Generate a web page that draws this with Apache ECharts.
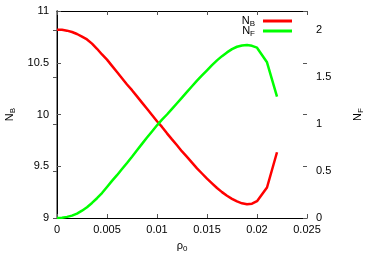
<!DOCTYPE html>
<html>
<head>
<meta charset="utf-8">
<script src="https://cdn.jsdelivr.net/npm/echarts@6/dist/echarts.min.js"></script>
<style>
  html, body { margin: 0; padding: 0; background: #fff; }
  #chart { width: 374px; height: 262px; }
</style>
</head>
<body>
<div id="chart"></div>
<script>
// rho_0 samples
const rho = [0, 0.0005, 0.001, 0.0015, 0.002, 0.0025, 0.003, 0.0035, 0.004, 0.0045,
  0.005, 0.0055, 0.006, 0.0065, 0.007, 0.0075, 0.008, 0.0085, 0.009, 0.0095,
  0.010, 0.0105, 0.011, 0.0115, 0.012, 0.0125, 0.013, 0.0135, 0.014, 0.0145,
  0.015, 0.0155, 0.016, 0.0165, 0.017, 0.0175, 0.018, 0.0185, 0.019, 0.0195,
  0.020, 0.021, 0.022];
// N_B (left axis)
const nB = [10.82, 10.818, 10.81, 10.797, 10.778, 10.752, 10.725, 10.685, 10.635, 10.58,
  10.53, 10.47, 10.41, 10.35, 10.29, 10.235, 10.175, 10.115, 10.055, 9.995,
  9.935, 9.88, 9.818, 9.76, 9.703, 9.643, 9.59, 9.535, 9.48, 9.43,
  9.38, 9.335, 9.29, 9.25, 9.215, 9.185, 9.16, 9.142, 9.132, 9.138,
  9.162, 9.295, 9.635];
// N_F (right axis)
const nF = [0, 0.003, 0.012, 0.025, 0.047, 0.078, 0.115, 0.16, 0.21, 0.265,
  0.33, 0.395, 0.455, 0.52, 0.585, 0.652, 0.72, 0.788, 0.855, 0.92,
  0.985, 1.045, 1.10, 1.16, 1.22, 1.28, 1.34, 1.40, 1.46, 1.515,
  1.57, 1.625, 1.675, 1.72, 1.76, 1.795, 1.82, 1.834, 1.838, 1.83,
  1.81, 1.655, 1.29];

const xTicks = [0, 0.005, 0.01, 0.015, 0.02, 0.025];

const font = 'Liberation Sans, Arial, sans-serif';
const rich = {
  n: { fontFamily: font, fontSize: 11, color: '#000', lineHeight: 14, verticalAlign: 'middle' },
  s: { fontFamily: font, fontSize: 8, color: '#000', lineHeight: 14, verticalAlign: 'bottom', padding: [5, 0, 0, 0] }
};

const chart = echarts.init(document.getElementById('chart'));

const tick = { show: true, inside: true, length: 4, lineStyle: { color: '#555' } };
const lbl = { fontFamily: font, fontSize: 11, color: '#000' };

chart.setOption({
  animation: false,
  grid: { left: 57, right: 67, top: 11, bottom: 44, outerBoundsMode: 'none', containLabel: false },
  legend: {
    orient: 'vertical',
    right: 77,
    top: 10,
    align: 'right',
    itemGap: -3,
    itemWidth: 29,
    itemHeight: 3,
    icon: 'rect',
    textStyle: { rich: rich, padding: [0, 3, 0, 0] },
    formatter: function (name) {
      return '{n|N}{s|' + name.slice(1) + '}';
    },
    data: ['NB', 'NF']
  },
  xAxis: [
    {
      type: 'value', min: 0, max: 0.025, interval: 0.005,
      name: '{n|ρ}{s|0}', nameLocation: 'middle', nameGap: 21,
      nameTextStyle: { rich: rich },
      axisLine: { lineStyle: { color: '#000' } },
      axisTick: tick,
      splitLine: { show: false },
      axisLabel: Object.assign({ margin: 6, formatter: function (v) {
        const r = Math.round(v * 1000) / 1000;
        return xTicks.indexOf(r) >= 0 ? String(r) : '';
      } }, lbl)
    },
    {
      type: 'value', min: 0, max: 0.025, interval: 0.005, position: 'top',
      axisLine: { show: true, lineStyle: { color: '#000' } },
      axisTick: tick,
      splitLine: { show: false },
      axisLabel: { show: false }
    }
  ],
  yAxis: [
    {
      type: 'value', min: 9, max: 11, interval: 0.5, position: 'left',
      name: '{n|N}{s|B}', nameLocation: 'middle', nameGap: 40,
      nameTextStyle: { rich: rich },
      axisLine: { show: true, lineStyle: { color: '#666', width: 1.5 } },
      axisTick: tick,
      splitLine: { show: false },
      axisLabel: Object.assign({ margin: 8 }, lbl)
    },
    {
      type: 'value', min: 0, max: 2.2, interval: 0.5, position: 'right',
      name: '{n|N}{s|F}', nameLocation: 'middle', nameGap: 44,
      nameTextStyle: { rich: rich },
      axisLine: { show: true, lineStyle: { color: '#000' } },
      axisTick: tick,
      splitLine: { show: false },
      axisLabel: Object.assign({ margin: 9, showMaxLabel: false }, lbl)
    },
    {
      type: 'value', min: 9, max: 11, interval: 0.5, position: 'right',
      axisLine: { show: false },
      axisTick: tick,
      splitLine: { show: false },
      axisLabel: { show: false }
    }
  ],
  series: [
    {
      name: 'NB', type: 'line', yAxisIndex: 0, showSymbol: false,
      lineStyle: { color: '#ff0000', width: 2.5 }, itemStyle: { color: '#ff0000' },
      data: rho.map(function (r, i) { return [r, nB[i]]; })
    },
    {
      name: 'NF', type: 'line', yAxisIndex: 1, showSymbol: false,
      lineStyle: { color: '#00ff00', width: 2.5 }, itemStyle: { color: '#00ff00' },
      data: rho.map(function (r, i) { return [r, nF[i]]; })
    }
  ]
});
</script>
</body>
</html>
